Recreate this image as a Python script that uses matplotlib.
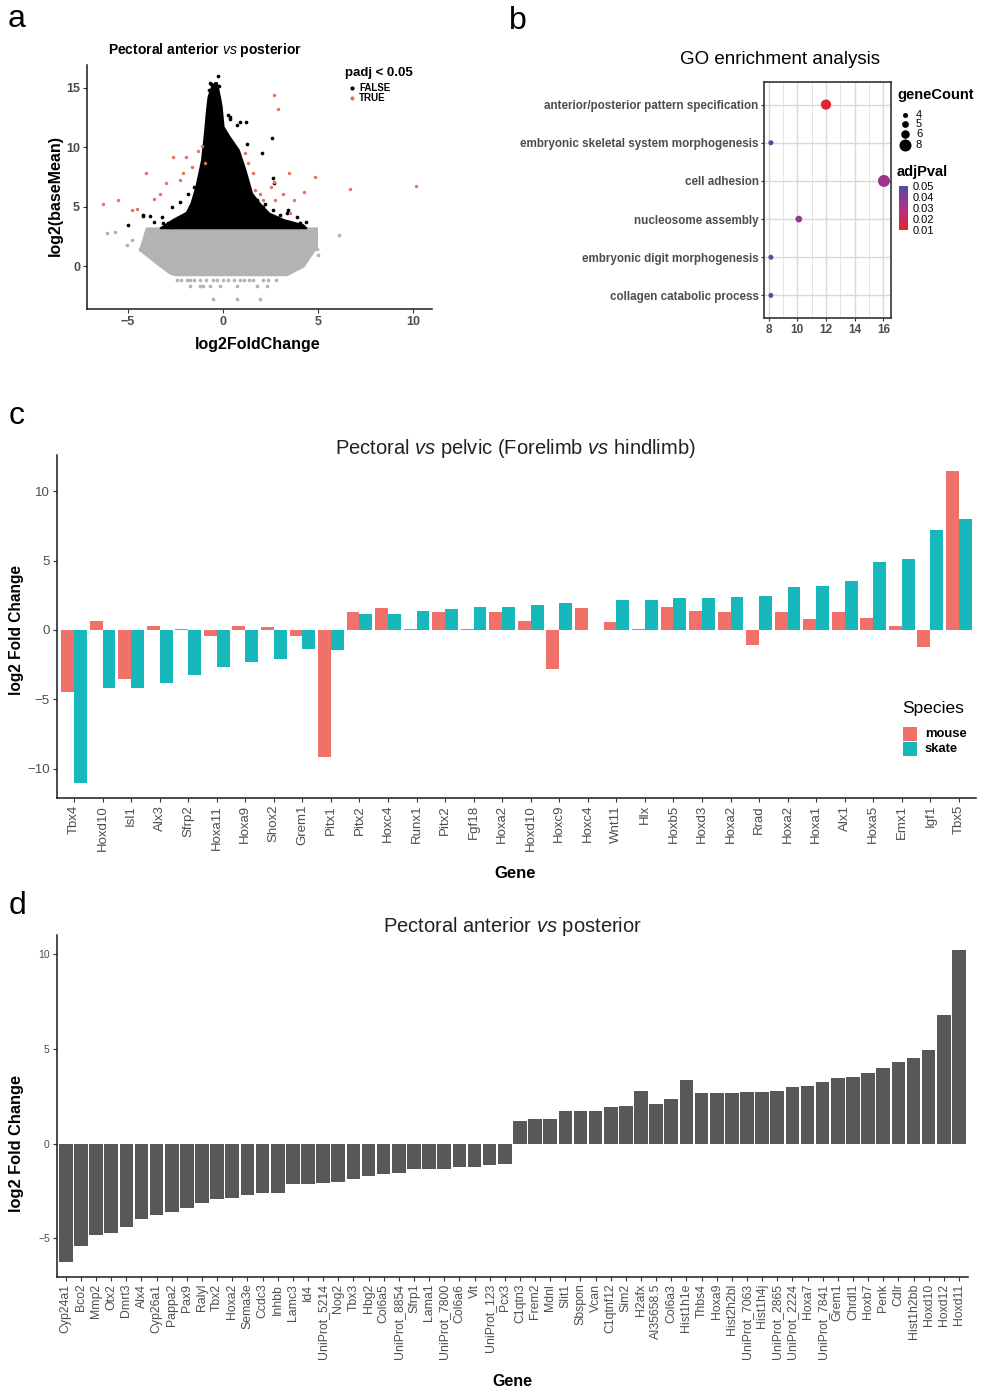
import numpy as np
import matplotlib
matplotlib.use("Agg")
import matplotlib.pyplot as plt
from matplotlib.colors import LinearSegmentedColormap
from matplotlib.patches import Rectangle

plt.rcParams['font.family'] = ['Liberation Sans', 'DejaVu Sans']
plt.rcParams['mathtext.fontset'] = 'custom'
plt.rcParams['mathtext.rm'] = 'Liberation Sans'
plt.rcParams['mathtext.it'] = 'Liberation Sans:italic'
plt.rcParams['mathtext.bf'] = 'Liberation Sans:bold'

W, H = 981, 1391
TICK = '#4D4D4D'

# ---------------- a: MA plot ----------------
# dense parts of the cloud, traced as outlines (log2FoldChange, log2(baseMean))
grey_cloud_x = [-4.0, -4.35, -3.47, -2.77, -2.5, 3.37, 4.24, 4.95, 4.95]
grey_cloud_y = [3.17, 1.34, 0.22, -0.62, -0.76, -0.76, -0.05, 1.6, 3.17]
black_cloud_x = [-3.3, -2.6, -1.9, -1.65, -1.4, -1.1, -0.95, -0.84, -0.76, -0.58, -0.4, -0.3,
                 -0.14, -0.05, 0.05, 0.35, 0.85, 1.2, 1.55, 1.95, 2.45, 3.25, 4.24, 4.42]
black_cloud_y = [3.17, 3.9, 4.5, 5.3, 6.66, 8.9, 11.15, 13.1, 14.2, 15.07, 15.4, 15.4,
                 14.2, 13.4, 11.7, 10.9, 9.75, 8.07, 6.1, 5.27, 4.43, 3.87, 3.45, 3.17]
# isolated points
grey_x = [-6.1, -5.67, -5.05, -4.79, -4.35, 6.09, 4.95, 5.0,
          -2.4, -2.2, -1.9, -1.7, -1.5, -1.2, -0.9, -0.5, -0.3, 0.0, 0.3, 0.6, 0.9, 1.1, 1.4, 1.6, 2.1, 2.4, 2.8,
          -1.72, -1.19, -1.02, -0.67, -0.14, 0.74, 1.79, 2.32,
          -0.49, 0.77, 1.96]
grey_y = [2.75, 2.89, 1.76, 2.18, 1.48, 2.6, 1.48, 0.9,
          -1.18, -1.18, -1.18, -1.18, -1.18, -1.18, -1.18, -1.18, -1.18, -1.18, -1.18, -1.18, -1.18, -1.18,
          -1.18, -1.18, -1.18, -1.18, -1.18,
          -1.68, -1.68, -1.68, -1.68, -1.68, -1.68, -1.68, -1.68,
          -2.72, -2.72, -2.72]
false_x = [-5.0, -4.2, -3.6, -3.2, -2.9, -0.75, -0.6, -0.25, -0.2, 0.3, 0.38, 0.75, 1.2,
           2.6, 2.05, 2.65, 2.7, 4.05, 4.4, 3.45, 3.0, 2.2, -2.4, -2.7, -1.5,
           -4.18, -3.83, -3.13, -2.68, -2.25, -1.81, -1.54, 1.79, 2.14, 2.66, 3.36, 3.89, 4.07,
           1.26, 0.91, 0.38, -0.58, -0.67]
false_y = [3.45, 4.2, 3.7, 4.1, 3.6, 14.8, 15.3, 15.95, 15.1, 12.7, 12.4, 11.9, 12.1,
           10.8, 9.5, 7.4, 7.0, 3.6, 3.75, 4.7, 4.3, 5.2, 3.5, 3.3, 4.4,
           4.29, 4.2, 3.59, 4.98, 5.4, 6.1, 6.66, 5.55, 4.98, 4.7, 4.43, 4.14, 3.59,
           10.3, 12.1, 12.5, 14.6, 15.35]
true_x = [-6.28, -5.49, -4.79, -4.53, -4.04, -3.61, -3.3, -2.98, -2.63, -2.25, -2.07, -1.93,
          -1.63, -1.28, -1.1, -0.93, 1.18, 1.35, 1.61, 1.7, 1.96, 2.14, 2.53, 2.7, 2.75,
          3.19, 3.46, 3.54, 3.72, 4.28, 4.86, 2.7, 2.88, 6.7, 10.18]
true_y = [5.2, 5.55, 4.7, 4.76, 7.79, 5.6, 6.1, 7.0, 9.19, 7.23, 7.79, 9.19,
          8.35, 9.69, 10.1, 8.63, 9.47, 8.63, 7.79, 6.39, 6.1, 5.55, 6.67, 7.09, 5.55,
          6.1, 7.79, 4.43, 5.55, 6.25, 7.5, 14.4, 13.2, 6.47, 6.75]

# ---------------- b: GO enrichment ----------------
go_terms = ["anterior/posterior pattern specification", "embryonic skeletal system morphogenesis",
            "cell adhesion", "nucleosome assembly", "embryonic digit morphogenesis",
            "collagen catabolic process"]
go_x = [12.0, 8.15, 16.05, 10.1, 8.15, 8.15]
go_count = [7, 4, 8, 5, 4, 4]
go_padj = [0.011, 0.049, 0.034, 0.036, 0.048, 0.048]
count_breaks = [4, 5, 6, 8]
padj_breaks = [0.01, 0.02, 0.03, 0.04, 0.05]

# ---------------- c: pectoral vs pelvic ----------------
genes_c = ["Tbx4", "Hoxd10", "Isl1", "Alx3", "Sfrp2", "Hoxa11", "Hoxa9", "Shox2", "Grem1", "Pitx1",
           "Pitx2", "Hoxc4", "Runx1", "Pitx2", "Fgf18", "Hoxa2", "Hoxd10", "Hoxc9", "Hoxc4", "Wnt11",
           "Hlx", "Hoxb5", "Hoxd3", "Hoxa2", "Rrad", "Hoxa2", "Hoxa1", "Alx1", "Hoxa5", "Emx1",
           "Igf1", "Tbx5"]
mouse_c = [-4.44, 0.67, -3.55, 0.29, 0.04, -0.40, 0.31, 0.19, -0.40, -9.18,
           1.32, 1.60, 0.10, 1.32, 0.05, 1.32, 0.65, -2.83, 1.60, 0.55,
           0.04, 1.65, 1.37, 1.32, -1.08, 1.32, 0.82, 1.27, 0.86, 0.31,
           -1.22, 11.46]
skate_c = [-11.0, -4.15, -4.15, -3.84, -3.24, -2.69, -2.28, -2.11, -1.39, -1.44,
           1.18, 1.18, 1.37, 1.51, 1.63, 1.68, 1.77, 1.92, np.nan, 2.13,
           2.13, 2.33, 2.33, 2.40, 2.45, 3.07, 3.14, 3.50, 4.87, 5.10,
           7.19, 7.96]

# ---------------- d: pectoral anterior vs posterior ----------------
genes_d = ["Cyp24a1", "Bco2", "Mmp2", "Otx2", "Dmrt3", "Alx4", "Cyp26a1", "Pappa2", "Pax9", "Ralyl",
           "Tbx2", "Hoxa2", "Sema3e", "Ccdc3", "Inhbb", "Lamc3", "Id4", "UniProt_5214", "Nog2", "Tbx3",
           "Hbg2", "Col6a5", "UniProt_8854", "Sfrp1", "Lama1", "UniProt_7800", "Col6a6", "Vit",
           "UniProt_123", "Pcx3", "C1qtn3", "Frem2", "Mdnl", "Slit1", "Sbspon", "Vcan", "C1qtnf12",
           "Sim2", "H2afx", "AI35658.5", "Col6a3", "Hist1h1e", "Thbs4", "Hoxa9", "Hist2h2bl",
           "UniProt_7063", "Hist1h4j", "UniProt_2865", "UniProt_2224", "Hoxa7", "UniProt_7841",
           "Grem1", "Chrdl1", "Hoxb7", "Penk", "Cdlr", "Hist1h2bb", "Hoxd10", "Hoxd12", "Hoxd11"]
lfc_d = [-6.27, -5.40, -4.80, -4.70, -4.42, -4.00, -3.77, -3.60, -3.40, -3.13,
         -2.92, -2.85, -2.71, -2.59, -2.59, -2.13, -2.11, -2.08, -2.00, -1.88,
         -1.69, -1.60, -1.55, -1.32, -1.32, -1.32, -1.25, -1.21, -1.13, -1.07,
         1.18, 1.32, 1.32, 1.73, 1.73, 1.73, 1.92, 1.97, 2.78, 2.08,
         2.36, 3.36, 2.69, 2.69, 2.69, 2.75, 2.75, 2.78, 2.98, 3.06,
         3.26, 3.49, 3.52, 3.71, 4.01, 4.33, 4.52, 4.93, 6.78, 10.25]

MOUSE = '#F0716A'
SKATE = '#17B8BC'

fig = plt.figure(figsize=(W / 100, H / 100), dpi=100)


def px_axes(left, top, right, bottom):
    return fig.add_axes([left / W, 1 - bottom / H, (right - left) / W, (bottom - top) / H])


def ftext(x, y, s, **kw):
    kw.setdefault('ha', 'center')
    kw.setdefault('va', 'center')
    return fig.text(x / W, 1 - y / H, s, **kw)


def classic(ax):
    ax.spines[['top', 'right']].set_visible(False)
    for s in ('left', 'bottom'):
        ax.spines[s].set_linewidth(1.1)
        ax.spines[s].set_color('#1a1a1a')
    ax.tick_params(length=3, width=0.8, color='#333333', labelcolor=TICK, pad=2)


# overlay in pixel coordinates for legend keys
ov = fig.add_axes([0, 0, 1, 1], zorder=5)
ov.set_xlim(0, W)
ov.set_ylim(H, 0)
ov.axis('off')

# panel letters
for lab, x, y in [('a', 17, 27), ('b', 518, 29), ('c', 17, 424), ('d', 17, 914)]:
    ftext(x, y, lab, fontsize=23, va='baseline')

# ---- a ----
axa = px_axes(87, 65, 432, 309)
axa.fill(grey_cloud_x, grey_cloud_y, color='#B3B3B3', lw=1.5, ec='#B3B3B3')
axa.scatter(grey_x, grey_y, s=7, c='#B3B3B3', lw=0)
axa.fill(black_cloud_x, black_cloud_y, color='black', lw=1.2, ec='black')
axa.scatter(false_x, false_y, s=7, c='black', lw=0)
axa.scatter(true_x, true_y, s=6, c='#E8705F', lw=0)
axa.set_xlim(-7.14, 11.0)
axa.set_ylim(-3.6, 16.9)
axa.set_xticks([-5, 0, 5, 10])
axa.set_yticks([0, 5, 10, 15])
classic(axa)
axa.tick_params(labelsize=9)
for t in axa.get_xticklabels() + axa.get_yticklabels():
    t.set_fontweight('bold')
ftext(205, 50, r'Pectoral anterior $\mathit{vs}$ posterior', fontsize=10, fontweight='bold')
ftext(258, 345, 'log2FoldChange', fontsize=11.5, fontweight='bold')
ftext(55, 195, 'log2(baseMean)', fontsize=11.5, fontweight='bold', rotation=90)
ftext(345, 73, 'padj < 0.05', fontsize=9.5, fontweight='bold', ha='left')
ov.plot([352], [88], 'o', ms=2, color='black')
ov.plot([352], [98], 'o', ms=2, color='#E8705F')
ftext(359, 88, 'FALSE', fontsize=7, fontweight='bold', ha='left')
ftext(359, 98, 'TRUE', fontsize=7, fontweight='bold', ha='left')

# ---- b ----
cmap = LinearSegmentedColormap.from_list('padj', ['#E3242B', '#B02F8C', '#5549A0'])


def dot_area(n):
    d = 5 + (np.asarray(n, float) - 4) * 1.75
    return (d * 0.72) ** 2


axb = px_axes(764.3, 81.7, 890.7, 318.3)
ypos = np.arange(len(go_terms))[::-1]
for xv in range(8, 17):
    axb.axvline(xv, color='#D9D9D9', lw=1.0 if xv % 2 == 0 else 0.5, zorder=0)
for yv in ypos:
    axb.axhline(yv, color='#D9D9D9', lw=1.0, zorder=0)
sc = axb.scatter(go_x, ypos, s=dot_area(go_count), c=go_padj, cmap=cmap,
                 vmin=0.01, vmax=0.05, lw=0, zorder=3)
axb.set_xlim(7.69, 16.52)
axb.set_ylim(-0.6, 5.6)
axb.set_xticks([8, 10, 12, 14, 16])
axb.set_yticks(ypos)
axb.set_yticklabels(go_terms)
for s in axb.spines.values():
    s.set_color('#333333')
    s.set_linewidth(1.2)
axb.tick_params(length=2, width=0.8, color='#333333', labelcolor=TICK, pad=2)
axb.tick_params(axis='y', labelsize=8.4)
axb.tick_params(axis='x', labelsize=8.5)
for t in axb.get_xticklabels() + axb.get_yticklabels():
    t.set_fontweight('bold')
ftext(780, 60, 'GO enrichment analysis', fontsize=13.5)

ftext(897, 95, 'geneCount', fontsize=10.5, fontweight='bold', ha='left')
for n, yk in zip(count_breaks, [115, 124, 134, 145]):
    ov.scatter([905], [yk], s=dot_area(n), c='black', lw=0)
    ftext(916, yk, str(n), fontsize=8, ha='left')
ftext(897, 172, 'adjPval', fontsize=10.5, fontweight='bold', ha='left')
cax = px_axes(899, 186, 908, 230)
cb = fig.colorbar(sc, cax=cax)
cb.outline.set_visible(False)
cb.set_ticks(padj_breaks)
cb.set_ticklabels([f'{v:.2f}' for v in padj_breaks])
cax.tick_params(labelsize=8, length=0, pad=3, labelcolor='black')

# ---- c ----
axc = px_axes(56.9, 455, 976, 798)
xc = np.arange(1, len(genes_c) + 1)
axc.bar(xc - 0.225, mouse_c, 0.45, color=MOUSE)
axc.bar(xc + 0.225, skate_c, 0.45, color=SKATE)
axc.set_xlim(0.4, len(genes_c) + 0.6)
axc.set_ylim(-12.1, 12.6)
axc.set_yticks([-10, -5, 0, 5, 10])
axc.set_xticks(xc)
axc.set_xticklabels(genes_c, rotation=90)
classic(axc)
axc.tick_params(axis='y', labelsize=9.5)
axc.tick_params(axis='x', labelsize=9.5)
ftext(515, 448, r'Pectoral $\mathit{vs}$ pelvic (Forelimb $\mathit{vs}$ hindlimb)',
      fontsize=14.5, color='#222222')
ftext(17, 630, 'log2 Fold Change', fontsize=11.2, fontweight='bold', rotation=90)
ftext(515, 874, 'Gene', fontsize=12, fontweight='bold')
ftext(902, 709, 'Species', fontsize=12.5, ha='left')
ov.add_patch(Rectangle((903, 727), 14, 14, color=MOUSE, lw=0))
ov.add_patch(Rectangle((903, 742), 14, 14, color=SKATE, lw=0))
ftext(925, 734, 'mouse', fontsize=9.4, fontweight='bold', ha='left')
ftext(925, 749, 'skate', fontsize=9.4, fontweight='bold', ha='left')

# ---- d ----
axd = px_axes(56.7, 935, 968, 1276.7)
xd = np.arange(1, len(genes_d) + 1)
axd.bar(xd, lfc_d, 0.9, color='#58585B')
axd.set_xlim(0.4, len(genes_d) + 0.6)
axd.set_ylim(-7.03, 11.03)
axd.set_yticks([-5, 0, 5, 10])
axd.set_xticks(xd)
axd.set_xticklabels(genes_d, rotation=90)
classic(axd)
axd.tick_params(axis='y', labelsize=7.5)
axd.tick_params(axis='x', labelsize=8.8)
ftext(512, 927, r'Pectoral anterior $\mathit{vs}$ posterior', fontsize=14.5, color='#222222')
ftext(17, 1143, 'log2 Fold Change', fontsize=11.8, fontweight='bold', rotation=90)
ftext(512, 1381, 'Gene', fontsize=11.5, fontweight='bold')

fig.savefig('out.png', dpi=100)
